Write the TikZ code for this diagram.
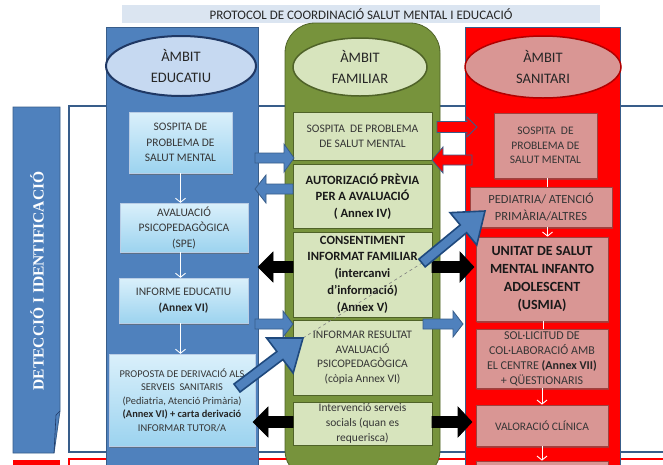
\documentclass[tikz,border=0pt]{standalone}
\usepackage{fontspec}
\setmainfont{Carlito}
\newfontfamily\banfont{Liberation Serif}
\usetikzlibrary{calc,shadows,arrows.meta,shapes.geometric}

\definecolor{colblue}{HTML}{4F81BD}
\definecolor{colblueb}{HTML}{385D8A}
\definecolor{navyb}{HTML}{1F3864}
\definecolor{colgreen}{HTML}{77933C}
\definecolor{colgreenb}{HTML}{4F6228}
\definecolor{glight}{HTML}{D7E4BD}
\definecolor{rlight}{HTML}{D99694}
\definecolor{rborder}{HTML}{A0413E}
\definecolor{titlebg}{HTML}{DBE5F1}
\definecolor{txtgray}{HTML}{363636}
\definecolor{elblue}{HTML}{C6D9F1}
\definecolor{eltop}{HTML}{DAF0FB}
\definecolor{elbot}{HTML}{9CD3EF}
\definecolor{bigfill}{HTML}{4F81BD}
\definecolor{bigdraw}{HTML}{1F497D}
\definecolor{dashgray}{HTML}{7F7F7F}

\newcommand\fsz[2]{\fontsize{#1}{#2}\selectfont}

% #1 style, #2 start coordinate, #3 tip coordinate, #4 half body, #5 half head, #6 head length
\newcommand\BlockArrow[6]{%
  \coordinate (bah) at ($(#3)!#6!(#2)$);
  \draw[#1] ($(#2)!#4!90:(#3)$) -- ($(bah)!#4!90:(#3)$) -- ($(bah)!#5!90:(#3)$) -- (#3)
    -- ($(bah)!#5!-90:(#3)$) -- ($(bah)!#4!-90:(#3)$) -- ($(#2)!#4!-90:(#3)$) -- cycle;}

\begin{document}
\begin{tikzpicture}[x=1pt,y=-1pt,
  ebox/.style={rectangle, draw=colblue!40, line width=0.4pt, top color=eltop, bottom color=elbot,
    drop shadow={shadow xshift=1pt, shadow yshift=-2pt, fill=black!60, opacity=0.6},
    align=center, text=txtgray, inner sep=1pt, font=\fsz{11.5}{15.5}},
  gbox/.style={rectangle, draw=colgreenb, line width=1pt, fill=glight, align=center,
    text=txtgray, inner sep=1pt, font=\fsz{11.5}{15}},
  gboxb/.style={gbox, text=black!90, font=\bfseries\fsz{12.6}{16.8}},
  sbox/.style={rectangle, draw=rborder, line width=0.8pt, fill=rlight, align=center,
    text=txtgray, inner sep=1pt, font=\fsz{11.5}{14.5},
    drop shadow={shadow xshift=1pt, shadow yshift=-1.5pt, fill=black!60, opacity=0.5}},
  amb/.style={ellipse, align=center, text=black!85, inner sep=0pt, font=\fsz{14.5}{21}},
  wline/.style={draw=white, line width=0.8pt},
  warrow/.style={wline, -{Straight Barb[length=4pt,width=10pt,line width=0.9pt]}},
  barrow/.style={fill=colblue, draw=colblueb, line width=0.8pt},
  karrow/.style={fill=black, draw=black, line width=0.6pt},
  rarrow/.style={fill=red, draw=colblueb, line width=0.8pt},
  bigarrow/.style={fill=bigfill, draw=bigdraw, line width=1.6pt, line join=miter},
  dashline/.style={draw=dashgray, dashed, line width=0.6pt}
]
\useasboundingbox (0,0) rectangle (663,464);
\clip (0,0) rectangle (663,464);
\fill[white] (0,0) rectangle (663,464);

% title
\node[fill=titlebg, minimum width=478pt, minimum height=18pt, inner sep=0pt,
  text=black!85, font=\fsz{13}{15}] (title) at (361,14) {PROTOCOL DE COORDINACIÓ SALUT MENTAL I EDUCACIÓ};

% phase band and next phase
\draw[draw=colblueb, line width=1.5pt, fill=white] (69,106) rectangle (700,452);
\draw[draw=red, line width=2pt, fill=white] (69,459) rectangle (700,520);
\fill[red] (13,460) rectangle (60,520);

% left banner
\draw[fill=colblue, draw=colblueb, line width=0.8pt] (13,107) -- (60,107) -- (60,411) -- (54,453) -- (13,453) -- cycle;
\draw[draw=navyb, line width=0.6pt] (60,411) -- (56,415) -- (54,453);
\node[rotate=90, text=white, inner sep=0pt, font=\banfont\bfseries\fsz{15.5}{17}] (phase) at (37,281) {DETECCIÓ I IDENTIFICACIÓ};

% columns
\draw[fill=colblue, draw=colblueb, line width=1pt] (106,27) rectangle (258,480);
\draw[fill=colgreen, draw=colgreenb, line width=0.8pt, rounded corners=30pt] (285,480) -- (285,23) -- (440,23) -- (440,480) -- cycle;
\draw[fill=red, draw=colblueb, line width=1pt] (465,27) rectangle (620,480);

% headings
\node[amb, fill=elblue, draw=navyb, line width=2pt, minimum width=150pt, minimum height=60pt] (ambE) at (181,66) {ÀMBIT\\EDUCATIU};
\node[amb, fill=glight, draw=colgreenb, line width=1.5pt, minimum width=134pt, minimum height=58pt] (ambF) at (360,67) {ÀMBIT\\FAMILIAR};
\node[amb, fill=rlight, draw=red!70!black, line width=1.5pt, minimum width=156pt, minimum height=62pt] (ambS) at (543,67) {ÀMBIT\\SANITARI};

% educational boxes
\node[ebox, minimum width=103pt, minimum height=61pt] (e1) at (180.5,142.5) {SOSPITA DE\\PROBLEMA DE\\SALUT MENTAL};
\node[ebox, minimum width=128pt, minimum height=49pt] (e2) at (184,227.5) {AVALUACIÓ\\PSICOPEDAGÒGICA\\(SPE)};
\node[ebox, minimum width=129pt, minimum height=45pt] (e3) at (183.5,300.5) {INFORME EDUCATIU\\\textbf{\color{black!85}(Annex VI)}};
\node[ebox, minimum width=146pt, minimum height=92pt, font=\fsz{10.4}{13.5}] (e4) at (182,400) {PROPOSTA DE DERIVACIÓ ALS\\SERVEIS~ SANITARIS\\(Pediatria, Atenció Primària)\\\textbf{\color{black!85}(Annex VI) + carta derivació}\\INFORMAR TUTOR/A};

% family boxes
\node[gbox, minimum width=139pt, minimum height=48pt] (g1) at (362.5,136) {SOSPITA~ DE PROBLEMA\\DE SALUT MENTAL};
\node[gboxb, minimum width=139pt, minimum height=64pt, font=\bfseries\fsz{12.6}{16.5}] (g2) at (362.5,196.5) {AUTORIZACIÓ PRÈVIA\\PER A AVALUACIÓ\\( Annex IV)};
\node[gboxb, minimum width=139pt, minimum height=85pt] (g3) at (362.5,274.5) {CONSENTIMENT\\INFORMAT FAMILIAR\\(intercanvi\\d’informació)\\(Annex V)};
\node[gbox, minimum width=139pt, minimum height=75pt, font=\fsz{11.5}{14.5}] (g4) at (362.5,357.5) {INFORMAR RESULTAT\\AVALUACIÓ\\PSICOPEDAGÒGICA\\(còpia Annex VI)};
\node[gbox, minimum width=139pt, minimum height=43pt] (g5) at (362.5,423.5) {Intervenció serveis\\socials (quan es\\requerisca)};

% health boxes
\node[sbox, minimum width=103pt, minimum height=65pt] (s1) at (545.5,145.5) {SOSPITA~ DE\\PROBLEMA DE\\SALUT MENTAL};
\node[sbox, minimum width=142pt, minimum height=40pt, font=\fsz{12.5}{16.5}] (s2) at (541,207) {PEDIATRIA/ ATENCIÓ\\PRIMÀRIA/ALTRES};
\node[sbox, minimum width=132pt, minimum height=84pt, text=black!90, font=\bfseries\fsz{14}{18}] (s3) at (542,279) {UNITAT DE SALUT\\MENTAL INFANTO\\ADOLESCENT\\(USMIA)};
\node[sbox, minimum width=132pt, minimum height=59pt, font=\fsz{12}{15}] (s4) at (542,358.5) {SOL·LICITUD DE\\COL·LABORACIÓ AMB\\EL CENTRE \textbf{\color{black!85}(Annex VII)}\\+ QÜESTIONARIS};
\node[sbox, minimum width=132pt, minimum height=41pt] (s5) at (542,425.5) {VALORACIÓ CLÍNICA};
\node[sbox, minimum width=132pt, minimum height=40pt] (s6) at (542,481) {};

% thin white connectors
\draw[warrow] (e1.south) -- (e1.south |- e2.north);
\draw[warrow] (e2.south -| e1.south) -- (e1.south |- e3.north);
\draw[warrow] (e3.south -| e1.south) -- (e1.south |- e4.north);
\draw[wline] (s1.south) ++(2,0) coordinate (s1o) -- (s1o |- s2.north);
\draw[warrow] (s2.south -| s1o) -- (s1o |- s3.north);
\draw[wline] (s3.south) ++(1,0) coordinate (s3o) -- (s3o |- s4.north);
\draw[warrow] (s4.south) -- (s4.south |- s5.north);
\draw[warrow] (s5.south) -- (s5.south |- s6.north);

% block arrows between areas
\coordinate (b1s) at (255,158); \coordinate (b1t) at (294,158);
\coordinate (b2s) at (293,189); \coordinate (b2t) at (255,189);
\coordinate (b3s) at (255,324); \coordinate (b3t) at (293,324);
\coordinate (b4s) at (423,324); \coordinate (b4t) at (463,324);
\coordinate (k1s) at (293,267); \coordinate (k1t) at (258,267);
\coordinate (k2s) at (432,267); \coordinate (k2t) at (474,267);
\coordinate (k3s) at (293,422); \coordinate (k3t) at (253,422);
\coordinate (k4s) at (432,422); \coordinate (k4t) at (472,422);
\coordinate (r1s) at (437,127); \coordinate (r1t) at (477,127);
\coordinate (r2s) at (472,160); \coordinate (r2t) at (432,160);
\BlockArrow{barrow}{b1s}{b1t}{5pt}{14pt}{10pt}
\BlockArrow{barrow}{b2s}{b2t}{5pt}{14pt}{11pt}
\BlockArrow{barrow}{b3s}{b3t}{5pt}{13pt}{10pt}
\BlockArrow{barrow}{b4s}{b4t}{5pt}{13pt}{10pt}
\BlockArrow{karrow}{k1s}{k1t}{5.5pt}{15pt}{15pt}
\BlockArrow{karrow}{k2s}{k2t}{5.5pt}{15pt}{14pt}
\BlockArrow{karrow}{k3s}{k3t}{5.5pt}{15pt}{15pt}
\BlockArrow{karrow}{k4s}{k4t}{5.5pt}{15pt}{14pt}
\BlockArrow{rarrow}{r1s}{r1t}{5.5pt}{10pt}{10pt}
\BlockArrow{rarrow}{r2s}{r2t}{5pt}{13pt}{11pt}

% referral arrows
\coordinate (d1s) at (237,388); \coordinate (d1t) at (303,338);
\coordinate (d2s) at (422,263); \coordinate (d2t) at (485,211);
\draw[dashline] (d1t) -- (d2s);
\BlockArrow{bigarrow}{d1s}{d1t}{5pt}{22pt}{29pt}
\BlockArrow{bigarrow}{d2s}{d2t}{5pt}{21pt}{28pt}
\end{tikzpicture}
\end{document}
